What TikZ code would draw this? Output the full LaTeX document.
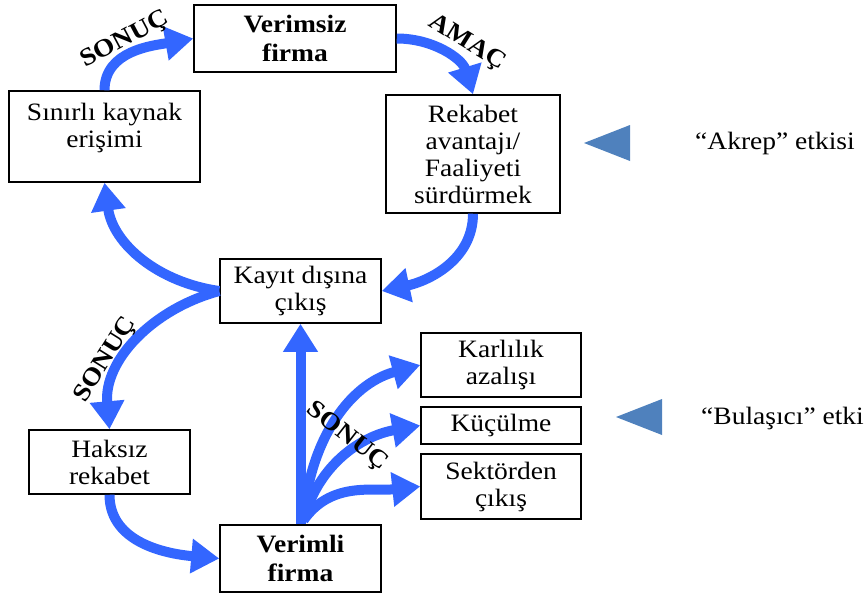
\documentclass[tikz,border=0pt]{standalone}
\usepackage{fontspec}
\setmainfont{Liberation Serif}[FakeStretch=1.1]
\usetikzlibrary{arrows.meta}
\definecolor{flow}{RGB}{51,102,255}
\definecolor{tri}{RGB}{79,129,189}
\begin{document}
\begin{tikzpicture}[x=1pt,y=1pt,
  box/.style={draw, line width=1.5pt, align=center, inner sep=0pt, font=\fontsize{25}{27}\selectfont},
  boldbox/.style={box, font=\fontsize{25}{29}\selectfont\bfseries},
  flowarrow/.style={draw=flow, line width=10pt, -{Triangle[width=33pt,length=28pt]}},
  lbl/.style={font=\fontsize{25}{27}\selectfont\bfseries, inner sep=0pt},
  note/.style={font=\fontsize{25}{27}\selectfont, anchor=west, inner sep=0pt},
  marker/.style={fill=tri}]
\useasboundingbox (0,0) rectangle (864,-595);

% boxes
\node[boldbox, minimum width=202pt, minimum height=67pt] (verimsiz) at (295,-38.5) {Verimsiz\\firma};
\node[box, minimum width=191pt, minimum height=91pt] (sinirli) at (104.5,-136.5) {Sınırlı kaynak\\erişimi\\[-12pt]\strut};
\node[box, minimum width=174pt, minimum height=118pt] (rekabet) at (473,-154) {Rekabet\\avantajı/\\Faaliyeti\\sürdürmek};
\node[box, minimum width=161pt, minimum height=64pt] (kayit) at (300.5,-291) {Kayıt dışına\\çıkış};
\node[box, minimum width=161pt, minimum height=64pt] (haksiz) at (109.5,-462) {Haksız\\rekabet};
\node[boldbox, minimum width=161pt, minimum height=67pt] (verimli) at (300.5,-558.5) {Verimli\\firma};
\node[box, minimum width=160pt, minimum height=64pt] (karlilik) at (501,-365) {Karlılık\\azalışı};
\node[box, minimum width=160pt, minimum height=37pt] (kucul) at (501,-425.5) {Küçülme};
\node[box, minimum width=160pt, minimum height=65pt] (sektor) at (501,-486.5) {Sektörden\\çıkış};

% connectors
\draw[flowarrow] (sinirli.north) to[out=90,in=190] (verimsiz.west);
\draw[flowarrow] (verimsiz.east) to[out=0,in=107] (rekabet.north);
\draw[flowarrow] (rekabet.south) to[out=-90,in=12] (kayit.east);
\draw[flowarrow] (kayit.west) to[out=172,in=-82] (sinirli.south);
\draw[flowarrow] (kayit.west) to[out=195,in=95] (haksiz.north);
\draw[flowarrow] (haksiz.south) to[out=-90,in=175] (verimli.west);
\draw[flowarrow] (verimli.north) -- (kayit.south);
\coordinate (fan) at ([xshift=3pt,yshift=4pt]verimli.north);
\draw[flowarrow] (fan) to[out=86,in=195] (karlilik.west);
\draw[flowarrow] (fan) to[out=75,in=190] (kucul.west);
\draw[flowarrow] (fan) to[out=55,in=186] (sektor.west);

% labels
\node[lbl, rotate=28] (s1) at (125,-40) {SONUÇ};
\node[lbl, rotate=-32] (amac) at (467,-43) {AMAÇ};
\node[lbl, rotate=58] (s2) at (106,-360) {SONUÇ};
\node[lbl, rotate=-38] (s3) at (347,-437) {SONUÇ};

% side markers
\fill[marker] (584,-143) -- (630,-125) -- (630,-161) -- cycle;
\fill[marker] (616,-417) -- (662,-399) -- (662,-435) -- cycle;
\node[note] (akrep) at (695,-143) {“Akrep” etkisi};
\node[note] (bulas) at (701,-418) {“Bulaşıcı” etki};
\end{tikzpicture}
\end{document}
